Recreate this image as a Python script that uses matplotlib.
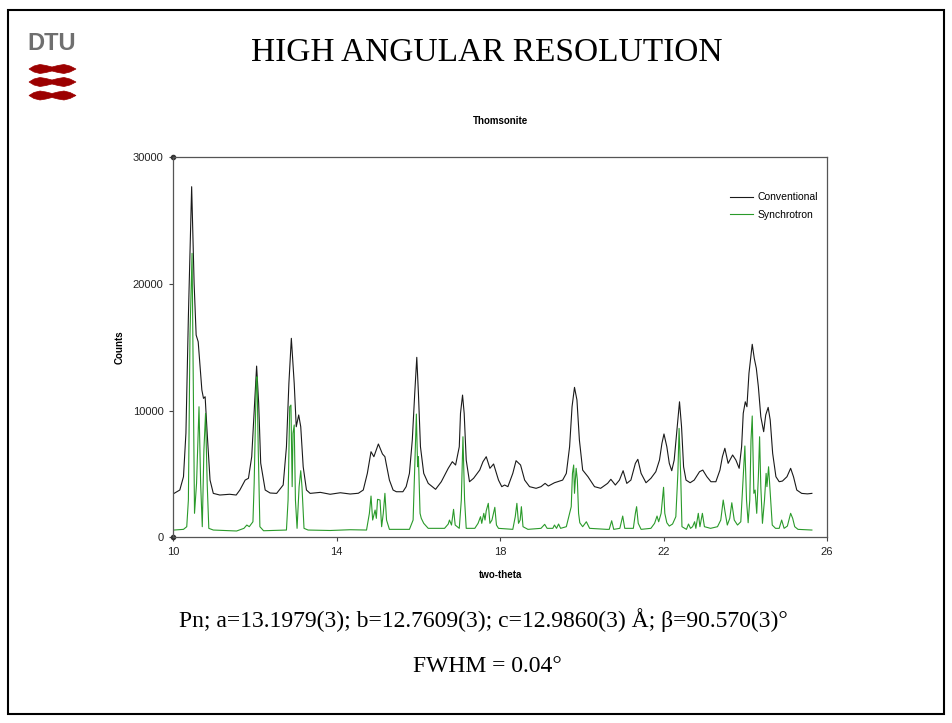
import matplotlib
matplotlib.use("Agg")
import matplotlib.pyplot as plt
from matplotlib.patches import Polygon, Rectangle

# Thomsonite powder patterns (two-theta, counts), vertices
conv_tth = [10.02, 10.16, 10.25, 10.31, 10.37, 10.45, 10.51, 10.56, 10.61, 10.70,
            10.74, 10.78, 10.83, 10.90, 10.98, 11.14, 11.38, 11.54, 11.63, 11.76,
            11.84, 11.92, 11.99, 12.04, 12.09, 12.14, 12.25, 12.37, 12.53, 12.69,
            12.77, 12.83, 12.89, 12.96, 13.01, 13.07, 13.12, 13.18, 13.26, 13.35,
            13.60, 13.84, 14.09, 14.33, 14.53, 14.65, 14.75, 14.84, 14.91, 15.02,
            15.12, 15.18, 15.21, 15.29, 15.38, 15.46, 15.62, 15.70, 15.78, 15.85,
            15.91, 15.96, 16.00, 16.05, 16.13, 16.24, 16.42, 16.56, 16.73, 16.83,
            16.91, 17.00, 17.03, 17.08, 17.12, 17.17, 17.25, 17.35, 17.50, 17.58,
            17.66, 17.75, 17.84, 17.96, 18.04, 18.11, 18.19, 18.31, 18.39, 18.50,
            18.60, 18.72, 18.88, 19.00, 19.10, 19.18, 19.33, 19.53, 19.62, 19.70,
            19.76, 19.82, 19.88, 19.94, 20.02, 20.15, 20.31, 20.46, 20.63, 20.71,
            20.82, 20.92, 21.01, 21.10, 21.20, 21.31, 21.37, 21.45, 21.57, 21.69,
            21.81, 21.90, 21.96, 22.01, 22.08, 22.14, 22.20, 22.26, 22.32, 22.39,
            22.44, 22.49, 22.55, 22.65, 22.75, 22.88, 22.96, 23.06, 23.16, 23.28,
            23.38, 23.44, 23.50, 23.58, 23.69, 23.77, 23.85, 23.91, 23.95, 24.00,
            24.04, 24.09, 24.17, 24.22, 24.27, 24.32, 24.38, 24.45, 24.50, 24.56,
            24.61, 24.67, 24.75, 24.83, 24.91, 25.02, 25.11, 25.18, 25.26, 25.38,
            25.52, 25.63]
conv_counts = [3470, 3735, 4785, 8235, 17420, 27680, 20080, 15970, 15440, 11630,
               10970, 11100, 8230, 4520, 3470, 3340, 3400, 3340, 3735, 4520,
               4660, 6365, 10580, 13520, 10600, 5860, 3735, 3500, 3470, 4130,
               7150, 12160, 15710, 12160, 8730, 9660, 8730, 5570, 3735, 3470,
               3550, 3400, 3520, 3420, 3480, 3735, 5050, 6760, 6365, 7370,
               6580, 6365, 5840, 4520, 3735, 3600, 3600, 4000, 5050, 7680,
               11370, 14210, 11370, 7150, 5050, 4260, 3790, 4390, 5450, 5970,
               5710, 7150, 9790, 11230, 9790, 6100, 4390, 4660, 5310, 5970,
               6365, 5450, 5790, 4520, 4000, 4130, 4000, 5050, 6050, 5710,
               4520, 4000, 3870, 4000, 4260, 4050, 4310, 4520, 5050, 7150,
               10310, 11840, 10840, 7680, 5310, 4785, 4000, 3870, 4260, 4580,
               4130, 4520, 5260, 4260, 4520, 5840, 6160, 5050, 4310, 4660,
               5180, 6100, 7420, 8160, 7150, 5840, 5260, 6100, 8210, 10700,
               8730, 5570, 4520, 4310, 4520, 5180, 5310, 4785, 4390, 4390,
               5310, 6365, 7030, 5840, 6500, 6100, 5450, 7150, 9790, 10700,
               10310, 12950, 15240, 14130, 13340, 11890, 9520, 8340, 9660, 10260,
               9260, 6630, 4785, 4390, 4445, 4785, 5450, 4785, 3735, 3470,
               3430, 3470]

sync_tth = [10.02, 10.25, 10.33, 10.37, 10.41, 10.46, 10.49, 10.52, 10.57, 10.63,
            10.67, 10.71, 10.75, 10.79, 10.83, 10.87, 10.98, 11.55, 11.73, 11.80,
            11.86, 11.95, 11.98, 12.03, 12.05, 12.08, 12.12, 12.21, 12.77, 12.81,
            12.85, 12.88, 12.91, 12.93, 12.96, 12.99, 13.03, 13.08, 13.12, 13.15,
            13.20, 13.30, 13.84, 14.33, 14.73, 14.80, 14.84, 14.88, 14.94, 14.97,
            15.00, 15.06, 15.10, 15.14, 15.18, 15.22, 15.29, 15.78, 15.87, 15.91,
            15.95, 15.98, 16.00, 16.04, 16.07, 16.13, 16.24, 16.64, 16.73, 16.76,
            16.81, 16.86, 16.90, 17.00, 17.05, 17.09, 17.13, 17.17, 17.38, 17.46,
            17.52, 17.55, 17.60, 17.63, 17.66, 17.71, 17.75, 17.80, 17.87, 17.91,
            17.96, 18.31, 18.37, 18.41, 18.45, 18.49, 18.52, 18.56, 18.68, 19.00,
            19.09, 19.15, 19.29, 19.33, 19.38, 19.43, 19.48, 19.62, 19.74, 19.77,
            19.80, 19.82, 19.86, 19.89, 19.92, 19.95, 20.02, 20.11, 20.19, 20.61,
            20.67, 20.73, 20.78, 20.93, 21.00, 21.05, 21.26, 21.31, 21.34, 21.38,
            21.45, 21.69, 21.78, 21.84, 21.88, 21.94, 22.00, 22.03, 22.08, 22.14,
            22.22, 22.30, 22.35, 22.38, 22.42, 22.45, 22.56, 22.61, 22.66, 22.71,
            22.76, 22.79, 22.85, 22.89, 22.95, 23.00, 23.15, 23.32, 23.40, 23.46,
            23.51, 23.56, 23.62, 23.67, 23.73, 23.81, 23.89, 23.95, 23.99, 24.03,
            24.07, 24.11, 24.14, 24.17, 24.21, 24.24, 24.28, 24.32, 24.35, 24.38,
            24.42, 24.47, 24.51, 24.53, 24.57, 24.62, 24.66, 24.74, 24.83, 24.89,
            24.95, 25.03, 25.11, 25.16, 25.21, 25.29, 25.63]
sync_counts = [576, 630, 840, 2945, 16100, 22420, 12160, 1895, 4260, 10310,
               4260, 840, 6890, 9790, 4260, 710, 576, 500, 710, 970,
               840, 1230, 4260, 12160, 12680, 6890, 840, 520, 576, 2945,
               10310, 10440, 4000, 8210, 8870, 2945, 710, 4000, 5260, 4000,
               710, 576, 540, 600, 576, 1895, 3260, 1365, 2155, 1500,
               3000, 2945, 840, 1895, 3474, 1365, 630, 630, 1365, 5570,
               9730, 5570, 6365, 1895, 1500, 1105, 710, 710, 1050, 1365,
               970, 2210, 970, 710, 2945, 7940, 2945, 710, 710, 1105,
               1630, 1105, 1895, 1365, 2100, 2685, 1105, 1365, 2370, 970,
               710, 630, 1630, 2685, 1105, 1365, 2420, 840, 630, 710,
               1025, 710, 710, 970, 710, 1050, 710, 840, 2420, 5050,
               5710, 3474, 5450, 4520, 1895, 1150, 840, 1230, 710, 630,
               630, 1310, 630, 710, 1680, 710, 710, 1895, 2420, 1105,
               630, 710, 1105, 1680, 1230, 1895, 3950, 1895, 1150, 890,
               1050, 1630, 5050, 8600, 4785, 840, 630, 1050, 710, 840,
               1230, 710, 1895, 840, 1895, 840, 710, 840, 1365, 2945,
               1895, 970, 1500, 2730, 1365, 970, 1230, 4785, 7210, 2945,
               1150, 2945, 7680, 9580, 3474, 3735, 1895, 4785, 7940, 4000,
               1105, 2945, 5050, 4000, 5570, 2945, 970, 710, 710, 1365,
               710, 890, 1895, 1500, 840, 630, 576]

x_ticks = [10, 14, 18, 22, 26]
y_ticks = [0, 10000, 20000, 30000]

sans = ["Liberation Sans", "DejaVu Sans"]
serif = ["Liberation Serif", "DejaVu Serif"]

fig = plt.figure(figsize=(9.52, 7.23), dpi=100)

# page layer in pixel units for the slide frame, logo and captions
page = fig.add_axes([0, 0, 1, 1])
page.set_xlim(0, 952)
page.set_ylim(723, 0)
page.axis("off")
page.add_patch(Rectangle((8, 10), 936, 704, fill=False, lw=1.5, ec="black"))

page.text(52, 44, "DTU", ha="center", va="center", fontsize=17, fontweight="bold",
          family=sans, color="#6f6f6f")
for yc in (69, 82, 95.5):
    wave = [(29, yc), (34, yc - 3), (40, yc - 4.5), (46, yc - 3.5), (52, yc - 2),
            (58, yc - 3.5), (64, yc - 4.5), (70, yc - 3), (76, yc),
            (70, yc + 3), (64, yc + 4.5), (58, yc + 3.5), (52, yc + 2),
            (46, yc + 3.5), (40, yc + 4.5), (34, yc + 3)]
    page.add_patch(Polygon(wave, closed=True, fc="#9c0000", ec="#9c0000", lw=0.5))

page.text(487, 53, "HIGH ANGULAR RESOLUTION", ha="center", va="center",
          fontsize=24, family=serif)
page.text(483, 620, "Pn; a=13.1979(3); b=12.7609(3); c=12.9860(3) Å; β=90.570(3)°",
          ha="center", va="center", fontsize=17, family=serif)
page.text(487, 667, "FWHM = 0.04°", ha="center", va="center", fontsize=17, family=serif)

# the diffraction chart
ax = fig.add_axes([0.182, 0.2568, 0.6867, 0.5256])
ax.plot(conv_tth, conv_counts, color="#1a1a1a", lw=0.8, label="Conventional")
ax.plot(sync_tth, sync_counts, color="#2a9a2a", lw=0.8, label="Synchrotron")
ax.set_xlim(x_ticks[0], x_ticks[-1])
ax.set_ylim(y_ticks[0], y_ticks[-1])
ax.set_xticks(x_ticks)
ax.set_yticks(y_ticks)
ax.tick_params(direction="out", length=3, width=0.8, colors="#444444",
               labelsize=8, labelcolor="#222222", pad=4)
for lab in ax.get_xticklabels() + ax.get_yticklabels():
    lab.set_family(sans)
for sp in ax.spines.values():
    sp.set_color("#555555")
    sp.set_linewidth(0.9)
ax.plot([x_ticks[0]] * 2, [y_ticks[0], y_ticks[-1]], "o", ms=3, color="#333333",
        clip_on=False)

ax.set_title("Thomsonite", fontsize=7, fontweight="bold", family=sans, pad=24)
ax.set_xlabel("two-theta", fontsize=7, fontweight="bold", family=sans, labelpad=9)
ax.set_ylabel("Counts", fontsize=7, fontweight="bold", family=sans, labelpad=6)

leg = ax.legend(loc="upper right", bbox_to_anchor=(822 / 952, 1 - 188 / 723),
                bbox_transform=fig.transFigure, frameon=False,
                prop={"family": sans, "size": 7.5}, handlelength=2.2,
                handletextpad=0.4, labelspacing=0.75, borderaxespad=0)

fig.savefig("out.png", dpi=100)
